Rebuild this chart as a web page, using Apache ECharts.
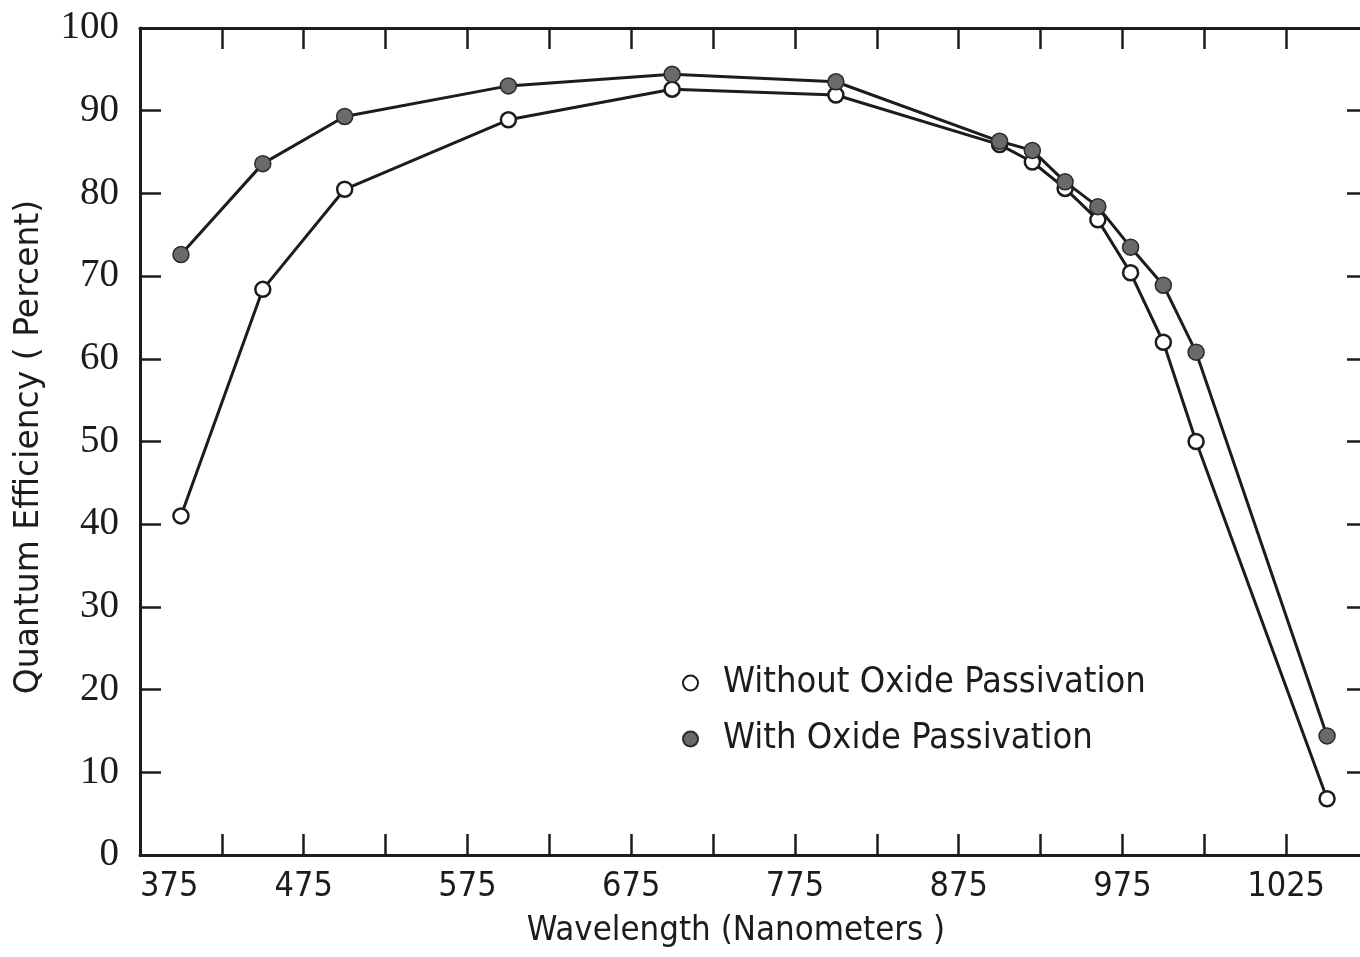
<!DOCTYPE html>
<html>
<head>
<meta charset="utf-8">
<script src="https://cdn.jsdelivr.net/npm/echarts@6/dist/echarts.min.js"></script>
<style>
html,body{margin:0;padding:0;background:#fff;}
#chart{width:1360px;height:957px;}
</style>
</head>
<body>
<div id="chart"></div>
<script>
// Wavelength (nm) of each measured point
const wavelengths = [400, 450, 500, 600, 700, 800, 900, 920, 940, 960, 980, 1000, 1020, 1100];
// Quantum efficiency (%) without oxide passivation (open circles)
const withoutOxide = [41.0, 68.4, 80.5, 88.9, 92.6, 91.9, 85.9, 83.8, 80.6, 76.8, 70.4, 62.0, 50.0, 6.8];
// Quantum efficiency (%) with oxide passivation (filled circles)
const withOxide = [72.6, 83.6, 89.3, 93.0, 94.4, 93.5, 86.3, 85.2, 81.4, 78.4, 73.5, 68.9, 60.8, 14.4];
// Tick labels as printed on the original x axis (every 100 nm starting at 375)
const xTickLabels = ['375', '475', '575', '675', '775', '875', '975', '1025'];
const seriesNames = ['Without Oxide Passivation', 'With Oxide Passivation'];
const xTitle = 'Wavelength (Nanometers )';
const yTitle = 'Quantum Efficiency ( Percent)';

const INK = '#1c1c1c';
const COND_FONT = '"DejaVu Sans Condensed", "DejaVu Sans", sans-serif';
const WIDE_FONT = '"DejaVu Sans", sans-serif';
const SERIF_FONT = '"Liberation Serif", "DejaVu Serif", serif';

const chart = echarts.init(document.getElementById('chart'));

const X_MIN = 375, X_MAX = 1125;
const GRID = {left: 140, top: 28, width: 1228, height: 827};

function xLabel(v) {
  const k = (v - X_MIN) / 100;
  if (Number.isInteger(k) && k >= 0 && k < xTickLabels.length) return xTickLabels[k];
  return '';
}

const axisLineStyle = {show: true, onZero: false, lineStyle: {color: INK, width: 3}};
const tickStyle = {show: true, inside: true, length: 21, lineStyle: {color: INK, width: 2.5}};

const option = {
  backgroundColor: '#ffffff',
  animation: false,
  grid: Object.assign({containLabel: false, outerBoundsMode: 'none'}, GRID),
  legend: {
    orient: 'vertical',
    left: 677,
    top: 659,
    itemWidth: 15,
    itemHeight: 15,
    itemGap: 18,
    icon: 'circle',
    data: seriesNames,
    textStyle: {
      fontFamily: COND_FONT,
      fontSize: 36,
      color: INK,
      lineHeight: 38,
      padding: [0, 0, 0, 20]
    }
  },
  xAxis: [
    {
      type: 'value',
      min: X_MIN,
      max: X_MAX,
      interval: 50,
      position: 'bottom',
      axisLine: axisLineStyle,
      axisTick: tickStyle,
      splitLine: {show: false},
      axisLabel: {
        formatter: xLabel,
        fontFamily: COND_FONT,
        fontSize: 34,
        color: INK,
        margin: 15,
        showMinLabel: true,
        showMaxLabel: true,
        alignMinLabel: 'left'
      }
    },
    {
      type: 'value',
      min: X_MIN,
      max: X_MAX,
      interval: 50,
      position: 'top',
      axisLine: axisLineStyle,
      axisTick: tickStyle,
      splitLine: {show: false},
      axisLabel: {show: false}
    }
  ],
  yAxis: [
    {
      type: 'value',
      min: 0,
      max: 100,
      interval: 10,
      position: 'left',
      axisLine: axisLineStyle,
      axisTick: tickStyle,
      splitLine: {show: false},
      axisLabel: {
        fontFamily: SERIF_FONT,
        fontSize: 39,
        color: INK,
        margin: 21,
        padding: [0, 0, 8, 0]
      }
    },
    {
      type: 'value',
      min: 0,
      max: 100,
      interval: 10,
      position: 'right',
      axisLine: axisLineStyle,
      axisTick: tickStyle,
      splitLine: {show: false},
      axisLabel: {show: false}
    }
  ],
  graphic: [
    {
      type: 'text',
      x: 29,
      y: 447,
      rotation: Math.PI / 2,
      style: {
        text: yTitle,
        fontFamily: WIDE_FONT,
        fontSize: 33,
        fill: INK,
        textAlign: 'center',
        textVerticalAlign: 'middle'
      }
    },
    {
      type: 'text',
      x: 736,
      y: 931,
      style: {
        text: xTitle,
        fontFamily: COND_FONT,
        fontSize: 34.5,
        fill: INK,
        textAlign: 'center',
        textVerticalAlign: 'middle'
      }
    }
  ],
  series: [
    {
      name: seriesNames[0],
      type: 'line',
      data: wavelengths.map((w, i) => [w, withoutOxide[i]]),
      symbol: 'circle',
      symbolSize: 15,
      showSymbol: true,
      lineStyle: {color: INK, width: 3},
      itemStyle: {color: '#ffffff', borderColor: INK, borderWidth: 2.5},
      z: 3
    },
    {
      name: seriesNames[1],
      type: 'line',
      data: wavelengths.map((w, i) => [w, withOxide[i]]),
      symbol: 'circle',
      symbolSize: 16,
      showSymbol: true,
      lineStyle: {color: INK, width: 3},
      itemStyle: {color: '#6a6a6a', borderColor: '#2a2a2a', borderWidth: 1.5},
      z: 4
    }
  ]
};

chart.setOption(option);
</script>
</body>
</html>
